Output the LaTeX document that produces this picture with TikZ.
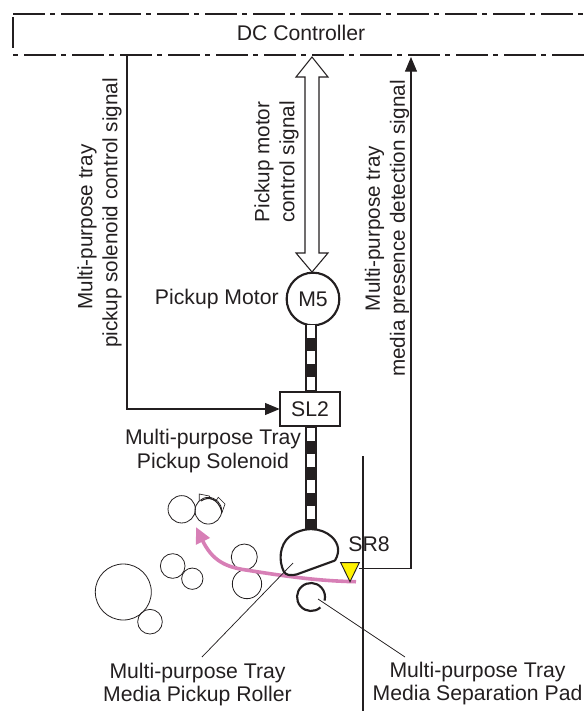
\documentclass[tikz,border=0pt]{standalone}
\usepackage{fontspec}
\setmainfont{Liberation Sans}
\usepackage{xcolor}
\usetikzlibrary{arrows.meta,positioning}
\definecolor{pagink}{HTML}{231F20}
\definecolor{pagpink}{HTML}{D77FB6}
\definecolor{pagyellow}{HTML}{FFF200}
\newcommand{\pagfont}{\fontsize{15.9}{17.7}\selectfont}
\newcommand{\pagsidefont}{\fontsize{15.5}{18.7}\selectfont}
\begin{document}
\begin{tikzpicture}[
  x=0.75pt,y=-0.75pt,
  every node/.style={text=pagink,font=\pagfont,inner sep=0pt,outer sep=0pt},
  ctrl/.style={pagink,line width=1.5pt,dash pattern=on 24pt off 3.75pt on 3.75pt off 4.5pt},
  motorbox/.style={draw=pagink,line width=1.6pt,circle,fill=white,minimum size=39.5pt},
  solbox/.style={draw=pagink,line width=1.5pt,fill=white,minimum width=45.5pt,minimum height=25.5pt},
  roll/.style={draw=pagink,line width=0.6pt,circle},
  dblarr/.style={draw=pagink,line width=0.8pt,line join=miter},
  sidelbl/.style={rotate=90,align=center,font=\pagsidefont},
  sig/.style={pagink,line width=0.8pt},
  sigarr/.style={sig,-{Triangle[length=11pt,width=9pt]}},
  lead/.style={pagink,line width=0.55pt},
  shaft/.style={pagink,line width=9.4pt},
  shaftgap/.style={white,line width=5.6pt,dash pattern=on 9.6pt off 9.83pt}
]
\useasboundingbox (0,0) rectangle (584,711);
% controller
\node (dc) at (301,33) {DC Controller};
\coordinate (dctl) at (13,14);
\coordinate (dctr) at (584,14);
\coordinate (dcbl) at (13,55);
\coordinate (dcbr) at (584,55);
\draw[ctrl] (dctl) -- (dctr);
\draw[ctrl,dash phase=27.75pt] (dcbl) -- (dcbr);
\draw[pagink,line width=1.5pt] (13,17) -- (13,48);
% motor and solenoid
\node[motorbox] (motor) at (313,299) {M5};
\node[solbox,below=50pt of motor,xshift=-2.25pt] (sl2) {SL2};
\node[left=6pt of motor] (motorlbl) {Pickup Motor};
\node[align=center] (sollbl) at (213,451) {Multi-purpose Tray\\Pickup Solenoid};
\coordinate (motortip) at (312,57);
\draw[dblarr] (motortip) -- ++(16,20) -- ++(-9,0) -- ++(0,176) -- ++(9,0) -- ++(-16,19) -- ++(-16,-19) -- ++(9,0) -- ++(0,-176) -- ++(-9,0) -- cycle;
\coordinate (rollertop) at (311,529);
\draw[shaft] (motor.south -| rollertop) -- (sl2.north -| rollertop);
\draw[shaftgap] (motor.south -| rollertop) -- (sl2.north -| rollertop);
\draw[shaft] (sl2.south -| rollertop) -- (rollertop);
\draw[shaftgap,dash phase=17.9pt] (sl2.south -| rollertop) -- (rollertop);
% signals
\coordinate (solout) at (127,55);
\coordinate (detin) at (411,57);
\coordinate (sr8out) at (359,568.5);
\draw[sigarr] (solout) |- (sl2.west);
\draw[sigarr] (sr8out) -| (detin);
\node[sidelbl] (sollabel) at (99.5,213) {Multi-purpose tray\hspace*{21pt}\\pickup solenoid control signal};
\node[sidelbl] (motorsiglbl) at (276.5,162) {Pickup motor\\control signal};
\node[sidelbl] (detlabel) at (387,228.5) {Multi-purpose tray\\media presence detection signal};
% rollers
\node[roll,minimum size=20.5pt] (r1) at (181.7,509.3) {};
\node[roll,minimum size=20pt] (r2) at (208.3,510.7) {};
\node[roll,minimum size=42pt] (r3) at (123.3,592) {};
\node[roll,minimum size=18.5pt] (r4) at (150,621.7) {};
\node[roll,minimum size=18.5pt] (r5) at (172.7,566) {};
\node[roll,minimum size=16pt] (r6) at (192.3,578.7) {};
\node[roll,minimum size=19.5pt] (r7) at (244.3,557) {};
\node[roll,minimum size=22pt] (r8) at (247,584) {};
\draw[pagink,line width=0.5pt] (199.3,500.7) -- (199.3,494) -- (209.3,496) -- (210.7,498.3) -- (216,500.7) -- (218.3,497.3) -- (225,504) -- (221.7,513.3);
\draw[pagink,line width=0.8pt] (201,501) .. controls (208,496) and (218,498) .. (222,512);
% media path
\draw[pagpink,line width=2.7pt,-{Triangle[length=12pt,width=11pt]}] (356,581.7) .. controls (320,581) and (290,577) .. (246,570) .. controls (225,567) and (212,560) .. (196,527);
% pickup roller, pad, guide, sensor
\draw[pagink,line width=1.6pt,line join=round] (335,560.5) -- (297,574.3) .. controls (290,576) and (286,575) .. (284,572) .. controls (278,560) and (280,545) .. (289,537) .. controls (303,526) and (321,527) .. (332,537) .. controls (339,544) and (340,552) .. (335,560.5);
\draw[pagink,line width=1.6pt] (320.4,607.4) arc[start angle=48,end angle=375,radius=14];
\draw[pagink,line width=1.5pt] (363,456) -- (363,711);
\draw[pagink,line width=0.7pt,fill=pagyellow] (340.7,562.7) -- (359.3,562.7) -- (350,581.7) -- cycle;
\node (sr8) at (369,544) {SR8};
% leaders and labels
\coordinate (rollerpt) at (293,563);
\coordinate (padpt) at (318,599);
\node[align=center] (rollerlbl) at (197.5,684.5) {Multi-purpose Tray\\Media Pickup Roller};
\node[align=center] (padlbl) at (477.5,683.5) {Multi-purpose Tray\\Media Separation Pad};
\draw[lead] (rollerpt) -- (202,657);
\draw[lead] (padpt) -- (405,657);
\end{tikzpicture}
\end{document}
